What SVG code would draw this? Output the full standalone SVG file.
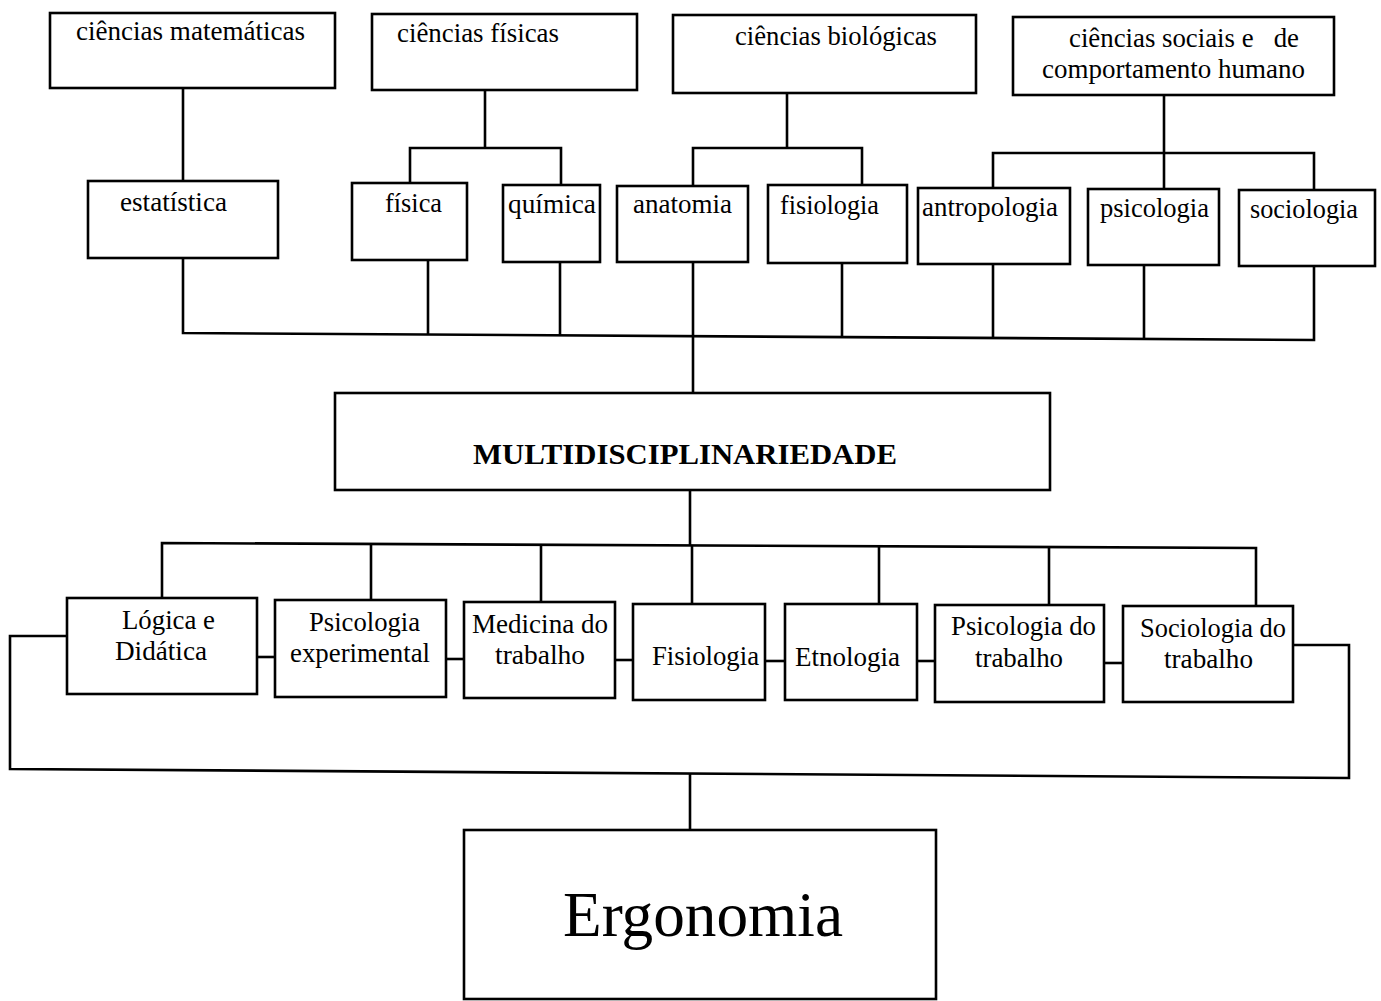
<svg xmlns="http://www.w3.org/2000/svg" width="1381" height="1001" viewBox="0 0 1381 1001">
  <style>
    .box { fill: #fff; stroke: #000; stroke-width: 2.6; }
    .lbl { font-family: "Liberation Serif", "Times New Roman", serif; font-size: 27px; fill: #000; }
    .bold { font-weight: bold; font-size: 29px; }
    .big { font-size: 64px; }
    #connectors path { fill: none; stroke: #000; stroke-width: 2.6; }
  </style>
  <rect width="1381" height="1001" fill="#fff"/>

  <!-- connectors -->
  <g id="connectors">
    <!-- sciences to disciplines -->
    <path d="M183,88 V181"/>
    <path d="M485,90 V148"/>
    <path d="M410,183 V148 H561 V185"/>
    <path d="M787,93 V148"/>
    <path d="M693,186 V148 H862 V184"/>
    <path d="M1164,95 V189"/>
    <path d="M993,189 V153 H1314 V190"/>
    <!-- disciplines to common bus -->
    <path d="M183,258 V333 L1314,340 V266"/>
    <path d="M428,260 V334.5"/>
    <path d="M560,262 V335.5"/>
    <path d="M693,262 V393"/>
    <path d="M842,263 V337"/>
    <path d="M993,264 V338"/>
    <path d="M1144,265 V339"/>
    <!-- multidisciplinarity to applied fields -->
    <path d="M690,490 V545"/>
    <path d="M162,598 V543 L1256,548 V606"/>
    <path d="M371,544 V600"/>
    <path d="M541,545 V602"/>
    <path d="M692,545 V604"/>
    <path d="M879,546 V604"/>
    <path d="M1049,547 V605"/>
    <!-- links between applied fields -->
    <path d="M257,657 H275"/>
    <path d="M446,659 H464"/>
    <path d="M615,660 H633"/>
    <path d="M765,661 H785"/>
    <path d="M917,661 H935"/>
    <path d="M1104,663 H1123"/>
    <!-- enclosing bracket to Ergonomia -->
    <path d="M67,636 H10 V769 L1349,778 V645 H1293"/>
    <path d="M690,774 V830"/>
  </g>

  <!-- sciences -->
  <g id="ciencias-matematicas">
    <rect class="box" x="50" y="13" width="285" height="75"/>
    <text class="lbl" x="76" y="40" textLength="229" lengthAdjust="spacingAndGlyphs">ciências matemáticas</text>
  </g>
  <g id="ciencias-fisicas">
    <rect class="box" x="372" y="14" width="265" height="76"/>
    <text class="lbl" x="397" y="42" textLength="162" lengthAdjust="spacingAndGlyphs">ciências físicas</text>
  </g>
  <g id="ciencias-biologicas">
    <rect class="box" x="673" y="15" width="303" height="78"/>
    <text class="lbl" x="735" y="45" textLength="202" lengthAdjust="spacingAndGlyphs">ciências biológicas</text>
  </g>
  <g id="ciencias-sociais">
    <rect class="box" x="1013" y="17" width="321" height="78"/>
    <text class="lbl" x="1069" y="47" textLength="230" lengthAdjust="spacingAndGlyphs" xml:space="preserve">ciências sociais e   de</text>
    <text class="lbl" x="1042" y="78" textLength="263" lengthAdjust="spacingAndGlyphs">comportamento humano</text>
  </g>

  <!-- disciplines -->
  <g id="estatistica">
    <rect class="box" x="88" y="181" width="190" height="77"/>
    <text class="lbl" x="120" y="211" textLength="107" lengthAdjust="spacingAndGlyphs">estatística</text>
  </g>
  <g id="fisica">
    <rect class="box" x="352" y="183" width="115" height="77"/>
    <text class="lbl" x="385" y="212" textLength="57" lengthAdjust="spacingAndGlyphs">física</text>
  </g>
  <g id="quimica">
    <rect class="box" x="503" y="185" width="97" height="77"/>
    <text class="lbl" x="508" y="213" textLength="88" lengthAdjust="spacingAndGlyphs">química</text>
  </g>
  <g id="anatomia">
    <rect class="box" x="617" y="186" width="131" height="76"/>
    <text class="lbl" x="633" y="213" textLength="99" lengthAdjust="spacingAndGlyphs">anatomia</text>
  </g>
  <g id="fisiologia">
    <rect class="box" x="768" y="185" width="139" height="78"/>
    <text class="lbl" x="780" y="214" textLength="99" lengthAdjust="spacingAndGlyphs">fisiologia</text>
  </g>
  <g id="antropologia">
    <rect class="box" x="918" y="188" width="152" height="76"/>
    <text class="lbl" x="922" y="216" textLength="136" lengthAdjust="spacingAndGlyphs">antropologia</text>
  </g>
  <g id="psicologia">
    <rect class="box" x="1088" y="189" width="131" height="76"/>
    <text class="lbl" x="1100" y="217" textLength="109" lengthAdjust="spacingAndGlyphs">psicologia</text>
  </g>
  <g id="sociologia">
    <rect class="box" x="1239" y="190" width="136" height="76"/>
    <text class="lbl" x="1250" y="218" textLength="108" lengthAdjust="spacingAndGlyphs">sociologia</text>
  </g>

  <!-- central node -->
  <g id="multidisciplinariedade">
    <rect class="box" x="335" y="393" width="715" height="97"/>
    <text class="lbl bold" x="473" y="464" textLength="424" lengthAdjust="spacingAndGlyphs">MULTIDISCIPLINARIEDADE</text>
  </g>

  <!-- applied fields -->
  <g id="logica-didatica">
    <rect class="box" x="67" y="598" width="190" height="96"/>
    <text class="lbl" x="122" y="629" textLength="93" lengthAdjust="spacingAndGlyphs">Lógica e</text>
    <text class="lbl" x="115" y="660" textLength="92" lengthAdjust="spacingAndGlyphs">Didática</text>
  </g>
  <g id="psicologia-experimental">
    <rect class="box" x="275" y="600" width="171" height="97"/>
    <text class="lbl" x="309" y="631" textLength="111" lengthAdjust="spacingAndGlyphs">Psicologia</text>
    <text class="lbl" x="290" y="662" textLength="140" lengthAdjust="spacingAndGlyphs">experimental</text>
  </g>
  <g id="medicina-trabalho">
    <rect class="box" x="464" y="602" width="151" height="96"/>
    <text class="lbl" x="472" y="633" textLength="136" lengthAdjust="spacingAndGlyphs">Medicina do</text>
    <text class="lbl" x="495" y="664" textLength="90" lengthAdjust="spacingAndGlyphs">trabalho</text>
  </g>
  <g id="fisiologia-aplicada">
    <rect class="box" x="633" y="604" width="132" height="96"/>
    <text class="lbl" x="652" y="665" textLength="107" lengthAdjust="spacingAndGlyphs">Fisiologia</text>
  </g>
  <g id="etnologia">
    <rect class="box" x="785" y="604" width="132" height="96"/>
    <text class="lbl" x="795" y="666" textLength="105" lengthAdjust="spacingAndGlyphs">Etnologia</text>
  </g>
  <g id="psicologia-trabalho">
    <rect class="box" x="935" y="605" width="169" height="97"/>
    <text class="lbl" x="951" y="635" textLength="145" lengthAdjust="spacingAndGlyphs">Psicologia do</text>
    <text class="lbl" x="975" y="667" textLength="88" lengthAdjust="spacingAndGlyphs">trabalho</text>
  </g>
  <g id="sociologia-trabalho">
    <rect class="box" x="1123" y="606" width="170" height="96"/>
    <text class="lbl" x="1140" y="637" textLength="146" lengthAdjust="spacingAndGlyphs">Sociologia do</text>
    <text class="lbl" x="1164" y="668" textLength="89" lengthAdjust="spacingAndGlyphs">trabalho</text>
  </g>

  <!-- result -->
  <g id="ergonomia">
    <rect class="box" x="464" y="830" width="472" height="169"/>
    <text class="lbl big" x="563" y="936" textLength="280" lengthAdjust="spacingAndGlyphs">Ergonomia</text>
  </g>
</svg>
